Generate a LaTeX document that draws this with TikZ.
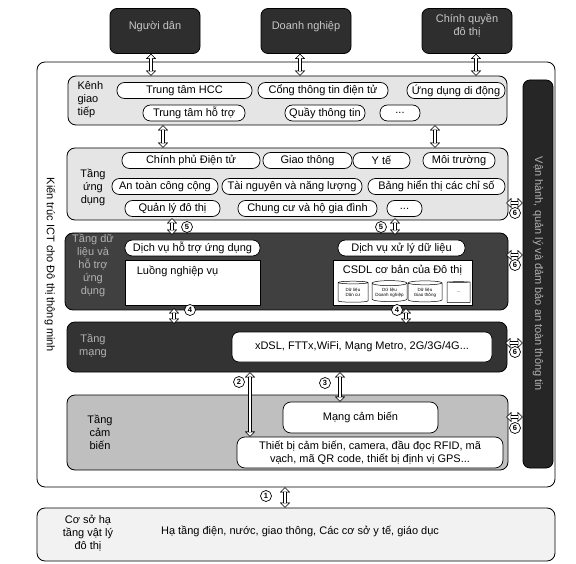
\documentclass[tikz,border=0pt]{standalone}
\usepackage{fontspec}
\setmainfont{Liberation Sans}
\usetikzlibrary{arrows.meta,shapes.geometric,positioning,calc}

\tikzset{
  layer/.style={draw, line width=0.8pt, rounded corners=8pt, inner sep=0pt},
  actor/.style={draw, line width=0.8pt, fill=black!82, text=black!22, rounded corners=7pt,
    minimum width=90pt, minimum height=45pt, align=center, text depth=12pt},
  pill/.style={draw, line width=0.7pt, fill=white, rounded corners=7.5pt, inner sep=0pt, minimum height=16pt},
  panel/.style={draw, line width=0.7pt, fill=white, inner sep=0pt},
  db/.style={cylinder, shape border rotate=90, aspect=0.18, draw, line width=0.5pt, fill=white,
    inner sep=0pt, align=center, font=\fontsize{4.5}{5}\selectfont},
  tier/.style={align=center},
  darktier/.style={align=center, text=black!30},
  num/.style={circle, draw, line width=0.7pt, fill=white, inner sep=0pt, minimum size=11pt,
    font=\fontsize{7.5}{8}\selectfont\bfseries},
  link/.style={draw=white, line width=2.6pt, shorten <=1pt, shorten >=1pt,
    {Triangle[length=3.3pt,width=6.6pt,line width=0.1pt]}-{Triangle[length=3.3pt,width=6.6pt,line width=0.1pt]},
    preaction={draw=black, line width=4pt, shorten <=0pt, shorten >=0pt,
      {Triangle[length=5pt,width=10pt,line width=0.1pt]}-{Triangle[length=5pt,width=10pt,line width=0.1pt]}}},
}

\begin{document}
\begin{tikzpicture}[x=1pt, y=-1pt, font=\fontsize{11}{13}\selectfont]
  \useasboundingbox (0,0) rectangle (576,564);

  % Actors
  \node[actor] (nguoidan) at (155,31) {Người dân};
  \node[actor] (doanhnghiep) at (306,31) {Doanh nghiệp};
  \node[actor] (chinhquyen) at (467,31) {Chính quyền\\đô thị};

  % Outer frame
  \node[layer, fill=white, minimum width=518pt, minimum height=425pt] (kientruc) at (296,274.5) {};
  \node[rotate=-90] (kientructen) at (50,265) {Kiến trúc ICT cho Đô thị thông minh};

  % Kenh giao tiep
  \node[layer, fill=black!10, minimum width=439pt, minimum height=49pt] (kenh) at (287.5,100.5) {};
  \node[tier, align=left, anchor=west] (kenhten) at (74,100) {Kênh\\giao\\tiếp};
  \node[pill, minimum width=135pt] (hcc) at (184.5,90.5) {Trung tâm HCC};
  \node[pill, minimum width=130pt] (congtt) at (323,90.5) {Cổng thông tin điện tử};
  \node[pill, minimum width=98pt] (didong) at (456,90.5) {Ứng dụng di động};
  \node[pill, minimum width=102pt] (hotro) at (194,113) {Trung tâm hỗ trợ};
  \node[pill, minimum width=80pt] (quay) at (325,113) {Quầy thông tin};
  \node[pill, minimum width=40pt] (kenhkhac) at (400,113) {...};

  % Tang ung dung
  \node[layer, fill=black!10, minimum width=441pt, minimum height=72pt] (ungdung) at (287.5,184) {};
  \node[tier] (ungdungten) at (93,187) {Tầng\\ứng\\dụng};
  \node[pill, minimum width=138pt] (cpdt) at (191,160.5) {Chính phủ Điện tử};
  \node[pill, minimum width=89pt] (giaothong) at (307.5,160.5) {Giao thông};
  \node[pill, minimum width=57pt] (yte) at (381.5,160.5) {Y tế};
  \node[pill, minimum width=72pt] (moitruong) at (459,160.5) {Môi trường};
  \node[pill, minimum width=106pt] (antoan) at (165,186.5) {An toàn công cộng};
  \node[pill, minimum width=140pt] (tainguyen) at (292,186.5) {Tài nguyên và năng lượng};
  \node[pill, minimum width=137pt] (chiso) at (436.5,186.5) {Bảng hiển thị các chỉ số};
  \node[pill, minimum width=95pt] (quanly) at (172.5,208.5) {Quản lý đô thị};
  \node[pill, minimum width=139pt] (chungcu) at (307.5,208.5) {Chung cư và hộ gia đình};
  \node[pill, minimum width=35pt] (ungdungkhac) at (404.5,208.5) {...};

  % Tang du lieu
  \node[layer, fill=black!75, minimum width=443pt, minimum height=77pt] (dulieu) at (286.5,271.5) {};
  \node[darktier] (dulieuten) at (93,265) {Tầng dữ\\liệu và\\hỗ trợ\\ứng\\dụng};
  \node[pill, minimum width=135pt] (dvhotro) at (192.5,248) {Dịch vụ hỗ trợ ứng dụng};
  \node[panel, minimum width=135pt, minimum height=45pt,
    label={[anchor=north west, inner sep=0pt, xshift=12pt, yshift=-6pt]north west:Luồng nghiệp vụ}] (luong) at (192.5,282.5) {};
  \node[pill, minimum width=127pt] (dvxuly) at (401.5,248) {Dịch vụ xử lý dữ liệu};
  \node[panel, minimum width=139pt, minimum height=45pt,
    label={[anchor=north, inner sep=0pt, yshift=-5pt]north:CSDL cơ bản của Đô thị}] (csdl) at (402.5,282.5) {};
  \node[db, minimum width=30pt, minimum height=21pt] (dancu) at (353,292.5) {Dữ liệu\\Dân cư};
  \node[db, minimum width=35pt, minimum height=21pt] (dndata) at (389.5,292.5) {Dữ liệu\\Doanh nghiệp};
  \node[db, minimum width=34pt, minimum height=21pt] (gtdata) at (425,292.5) {Dữ liệu\\Giao thông};
  \node[db, minimum width=23pt, minimum height=21pt] (dbkhac) at (458.5,292.5) {...};

  % Tang mang
  \node[layer, fill=black!80, minimum width=440pt, minimum height=50pt] (mang) at (287,347) {};
  \node[darktier] (mangten) at (93,346) {Tầng\\mạng};
  \node[pill, minimum width=260pt, minimum height=30pt, rounded corners=7pt] (ketnoi) at (362,347) {xDSL, FTTx,WiFi, Mạng Metro, 2G/3G/4G...};

  % Tang cam bien
  \node[layer, fill=black!25, minimum width=441pt, minimum height=75pt] (cambien) at (287.5,432.5) {};
  \node[tier] (cambienten) at (100,432) {Tầng\\cảm\\biến};
  \node[pill, minimum width=155pt, minimum height=31pt, rounded corners=8pt] (mangcb) at (360.5,417.5) {Mạng cảm biến};
  \node[pill, minimum width=266pt, minimum height=31pt, rounded corners=8pt, align=center] (thietbi) at (370,452.5) {Thiết bị cảm biến, camera, đầu đọc RFID, mã\\vạch, mã QR code, thiết bị định vị GPS...};

  % Van hanh
  \node[layer, fill=black!85, minimum width=30pt, minimum height=388pt, rounded corners=7pt] (vanhanh) at (538,274) {};
  \node[rotate=-90, text=black!30] (vanhanhten) at (vanhanh) {Vận hành, quản lý và đảm bảo an toàn thông tin};

  % Co so ha tang
  \node[layer, fill=black!5, minimum width=518pt, minimum height=53pt] (hatang) at (296,534.5) {};
  \node[tier] (hatangten) at (88,533) {Cơ sở hạ\\tầng vật lý\\đô thị};
  \node (hatangnd) at (300,531) {Hạ tầng điện, nước, giao thông, Các cơ sở y tế, giáo dục};

  % Arrows
  \draw[link] (nguoidan.south -| 151,0) -- (kenh.north -| 151,0);
  \draw[link] (doanhnghiep.south -| 300,0) -- (kenh.north -| 300,0);
  \draw[link] (chinhquyen.south -| 476,0) -- (kenh.north -| 476,0);
  \draw[link] (kenh.south -| 163,0) -- (ungdung.north -| 163,0);
  \draw[link] (kenh.south -| 435,0) -- (ungdung.north -| 435,0);
  \draw[link] ([yshift=2pt]ungdung.south -| 172,0) -- ([yshift=-2pt]dulieu.north -| 172,0);
  \draw[link] ([yshift=2pt]ungdung.south -| 395,0) -- ([yshift=-2pt]dulieu.north -| 395,0);
  \draw[link] ([yshift=2pt]dulieu.south -| 174,0) -- ([yshift=-2pt]mang.north -| 174,0);
  \draw[link] ([yshift=2pt]dulieu.south -| 406,0) -- ([yshift=-2pt]mang.north -| 406,0);
  \draw[link] (mang.south -| 250,0) -- (thietbi.north -| 250,0);
  \draw[link] (mang.south -| 340,0) -- (mangcb.north -| 340,0);
  \draw[link] ([xshift=-2pt]ungdung.east |- 0,203) -- (vanhanh.west |- 0,203);
  \draw[link] ([xshift=-2pt]dulieu.east |- 0,255) -- (vanhanh.west |- 0,255);
  \draw[link] ([xshift=-2pt]mang.east |- 0,343) -- (vanhanh.west |- 0,343);
  \draw[link] ([xshift=-2pt]cambien.east |- 0,417) -- (vanhanh.west |- 0,417);
  \draw[link] (kientruc.south -| 285,0) -- (hatang.north -| 285,0);

  % Numbers
  \node[num] (so1) at (266,496) {1};
  \node[num] (so2) at (239,382) {2};
  \node[num] (so3) at (325,383) {3};
  \node[num] (so4a) at (190,310) {4};
  \node[num] (so4b) at (397,310) {4};
  \node[num] (so5a) at (187,227) {5};
  \node[num] (so5b) at (381,227) {5};
  \node[num] (so6a) at (515,213) {6};
  \node[num] (so6b) at (515,265) {6};
  \node[num] (so6c) at (515,352) {6};
  \node[num] (so6d) at (515,428) {6};
\end{tikzpicture}
\end{document}
